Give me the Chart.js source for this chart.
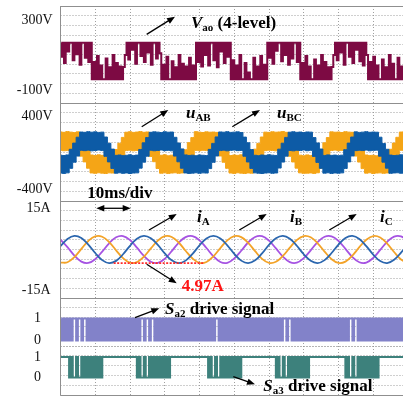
<!DOCTYPE html>
<html>
<head>
<meta charset="utf-8">
<title>Four-level inverter waveforms</title>
<script src="https://cdn.jsdelivr.net/npm/chart.js@4.4.1/dist/chart.umd.min.js"></script>
<style>
  html, body { margin: 0; padding: 0; background: #fff; }
  #scope { position: relative; width: 403px; height: 397px; overflow: hidden; background: #fff; }
  #scope canvas { position: absolute; left: 0; }
</style>
</head>
<body>
<div id="scope">
  <canvas id="pVao"></canvas>
  <canvas id="pLine"></canvas>
  <canvas id="pCur"></canvas>
  <canvas id="pSa2"></canvas>
  <canvas id="pSa3"></canvas>
</div>
<script>
// ---------------- recorded traces ----------------
// time base: 10 ms per division, 0..100 ms across the screen

// phase-leg voltage Vao, one sample every 0.5 ms (V)
const VAO_STEP = 0.5;
const vao = [
  170,90,170,55,170,120,170,170,70,170,105,170,45,170,170,85,170,60,170,
  -39,60,-39,95,-39,40,-39,-39,80,-39,30,-39,100,-39,55,-39,35,-39,31,100,
  170,75,170,130,170,50,170,170,95,170,60,170,115,170,45,170,170,80,170,110,
  -39,45,-39,90,-39,-39,65,-39,30,-39,100,-39,50,-39,35,-39,85,-39,40,-39,
  170,60,170,35,170,100,170,40,170,170,70,170,30,170,120,170,55,170,90,170,
  -39,70,-39,40,-39,100,-39,-39,55,-39,0,-39,-39,85,-39,35,-39,95,-39,45,-39,
  170,85,170,50,170,125,170,170,65,170,100,170,45,170,80,170,170,60,170,
  -39,55,-39,95,-39,35,-39,-39,75,-39,40,-39,100,-39,60,-39,30,-39,31,100,
  170,70,170,115,170,45,170,170,90,170,55,170,130,170,65,170,40,170,100,
  -39,60,-39,90,-39,40,-39,-39,75,-39,30,-39,100,-39,50,-39,-39,85,-39,35,-39,65,-39
];

// line voltages: upper / lower edge of the switching band, every 1 ms (V)
const LINE_STEP = 1;
const uabHigh = [
  232,228,236,230,226,233,175,112,42,-22,-28,-20,-26,-30,-24,-18,38,108,172,
  229,234,227,231,236,228,232,178,105,45,-25,-20,-30,-24,-22,-28,-26,36,114,170,
  235,230,226,233,229,231,227,172,110,40,-28,-22,-26,-20,-30,-25,-23,42,106,176,
  230,227,234,229,232,236,228,174,108,44,-24,-30,-21,-27,-25,-19,38,112,170,
  233,229,231,226,235,230,228,177,111,39,-22,-27,-25,-30,-20,-26,-24,41,109,173,
  231,234,228
];
const uabLow = [
  30,25,27,32,24,29,-35,-98,-168,-220,-224,-218,-222,-226,-219,-221,-172,-103,-33,
  27,31,24,28,33,26,29,-38,-96,-171,-223,-219,-225,-221,-218,-224,-220,-166,-101,-36,
  29,25,30,27,24,32,28,-33,-102,-169,-221,-225,-218,-222,-226,-220,-223,-173,-97,-35,
  26,31,28,24,30,27,33,-36,-99,-167,-219,-224,-222,-220,-225,-218,-170,-104,-32,
  28,32,25,29,27,31,26,-34,-100,-172,-222,-218,-226,-221,-219,-224,-220,-168,-98,-37,
  30,26,29
];
const ubcHigh = [
  -24,-28,-21,41,109,174,231,228,235,229,233,227,230,176,107,43,
  -26,-22,-29,-25,-20,-27,-23,39,112,171,228,233,230,226,234,229,231,173,110,45,
  -21,-27,-24,-30,-22,-25,-28,40,106,177,232,229,235,227,230,233,226,175,113,38,
  -25,-29,-22,-26,-20,-24,-27,42,108,172,229,234,228,231,226,232,230,170,111,44,
  -27,-21,-26,-23,-29,-24,37,109,176,233,227,230,235,228,231,229,174,105,41,
  -23,-28,-25,-20,-26,-22
];
const ubcLow = [
  -221,-225,-219,-169,-102,-34,29,26,31,24,28,32,27,-37,-98,-171,
  -223,-218,-224,-220,-226,-221,-219,-167,-101,-36,30,25,28,33,26,29,24,-34,-97,-168,
  -220,-225,-222,-218,-224,-219,-221,-172,-103,-33,27,31,24,29,32,26,28,-36,-99,-170,
  -219,-223,-226,-221,-218,-224,-220,-166,-100,-35,28,24,30,27,33,25,29,-38,-104,-169,
  -222,-218,-225,-220,-223,-219,-171,-98,-33,26,30,27,32,24,29,31,-35,-101,-167,
  -224,-220,-218,-223,-221,-225
];

// load currents, one sample every 2 ms (A)
const CUR_STEP = 2;
const iA = [1.20,3.82,4.96,4.19,1.80,-1.28,-3.87,-4.96,-4.15,-1.73,1.35,3.92,4.97,4.10,1.66,-1.43,-3.96,-4.97,-4.06,-1.58,
  1.50,4.01,4.97,4.01,1.51,-1.58,-4.06,-4.97,-3.96,-1.43,1.65,4.10,4.97,3.92,1.36,-1.73,-4.14,-4.96,-3.87,-1.28,
  1.80,4.19,4.96,3.82,1.21,-1.87,-4.23,-4.95,-3.77,-1.13,1.94];
const iB = [-4.78,-4.66,-2.75,0.22,3.11,4.80,4.64,2.69,-0.30,-3.17,-4.82,-4.61,-2.62,0.38,3.23,4.84,4.58,2.55,-0.46,-3.29,
  -4.85,-4.55,-2.49,0.53,3.35,4.87,4.52,2.42,-0.61,-3.40,-4.89,-4.48,-2.35,0.69,3.46,4.90,4.45,2.28,-0.77,-3.52,
  -4.91,-4.41,-2.21,0.84,3.57,4.92,4.38,2.14,-0.92,-3.63,-4.93];
const iC = [3.57,0.85,-2.21,-4.41,-4.91,-3.52,-0.77,2.28,4.45,4.90,3.46,0.69,-2.35,-4.48,-4.89,-3.41,-0.61,2.42,4.51,4.87,
  3.35,0.54,-2.48,-4.55,-4.86,-3.29,-0.46,2.55,4.58,4.84,3.23,0.38,-2.62,-4.61,-4.82,-3.17,-0.30,2.68,4.64,4.80,
  3.11,0.23,-2.75,-4.66,-4.78,-3.05,-0.15,2.81,4.69,4.76,2.99];
// measured current peak (A) and the span it is marked over (ms)
const iPeak = 4.97;
const iPeakSpan = [15.3, 41.1];

// gate drive signals, one sample every 0.5 ms (logic level)
const DRIVE_STEP = 0.5;
const sa2 = [
  1,0,1,0,1,0,1,0,1,1, 0,1,1,0,1,1,0,1,0,1, 0,1,0,1,0,1,0,1,0,1, 0,1,0,1,0,1,0,1,0,1,
  0,1,0,1,0,1,0,1,1,0, 1,1,0,1,1,0,1,0,1,0, 1,0,1,0,1,0,1,0,1,0, 1,0,1,0,1,0,1,0,1,0,
  1,0,1,0,1,0,1,0,1,0, 1,1,0,1,0,1,0,1,0,1, 0,1,0,1,0,1,0,1,0,1, 0,1,0,1,0,1,0,1,0,1,
  0,1,0,1,0,1,0,1,0,1, 1,0,1,1,0,1,0,1,0,1, 0,1,0,1,0,1,0,1,0,1, 0,1,0,1,0,1,0,1,0,1,
  0,1,0,1,0,1,0,1,1,0, 1,1,0,1,0,1,0,1,0,1, 0,1,0,1,0,1,0,1,0,1, 0,1,0,1,0,1,0,1,0,1,
  0
];
const sa3 = [
  1,1,1,1,1,1,0,1,0,0, 1,0,0,1,0,1,0,1,0,1, 0,1,0,1,0,1,1,1,1,1, 1,1,1,1,1,1,1,1,1,1,
  1,1,1,1,1,0,1,0,0,1, 0,0,1,0,1,0,1,0,1,0, 1,0,1,0,1,1,1,1,1,1, 1,1,1,1,1,1,1,1,1,1,
  1,1,1,1,1,1,0,1,0,0, 1,0,0,1,0,1,0,1,0,1, 0,1,0,1,0,1,1,1,1,1, 1,1,1,1,1,1,1,1,1,1,
  1,1,1,1,1,0,1,0,0,1, 0,0,1,0,1,0,1,0,1,0, 1,0,1,0,1,1,1,1,1,1, 1,1,1,1,1,1,1,1,1,1,
  1,1,1,1,1,0,1,0,0,1, 0,0,1,0,1,0,1,0,1,0, 1,0,1,0,1,1,1,1,1,1, 1,1,1,1,1,1,1,1,1,1,
  1
];

// value-axis ticks for each trace window
const vaoTicks = [-100, 300],  vaoTickLabels = ['-100V', '300V'];
const lineTicks = [-400, 400], lineTickLabels = ['-400V', '400V'];
const curTicks = [-15, 15],    curTickLabels = ['-15A', '15A'];
const logicTicks = [0, 1],     logicTickLabels = ['0', '1'];

// ---------------- drawing ----------------
const SERIF = '"Liberation Serif", "Times New Roman", Times, serif';
const GRID = 'rgba(150,150,150,0.9)';
const FRAME = '#8f8f8f';
const AXIS_W = 60.5;
const PAD = 20;
const CANVAS_W = 408;

const series = (values, step) => values.map((v, k) => ({ x: k * step, y: v }));

function drawArrow(ctx, x1, y1, x2, y2, both) {
  const a = Math.atan2(y2 - y1, x2 - x1);
  const L = 8, W = 3.2;
  const c = Math.cos(a), s = Math.sin(a);
  ctx.strokeStyle = '#000';
  ctx.fillStyle = '#000';
  ctx.lineWidth = 1.3;
  const back = both ? L * 0.7 : 0;
  ctx.beginPath();
  ctx.moveTo(x1 + c * back, y1 + s * back);
  ctx.lineTo(x2 - c * L * 0.7, y2 - s * L * 0.7);
  ctx.stroke();
  const head = (x, y, cc, ss) => {
    ctx.beginPath();
    ctx.moveTo(x, y);
    ctx.lineTo(x - L * cc + W * ss, y - L * ss - W * cc);
    ctx.lineTo(x - L * cc - W * ss, y - L * ss + W * cc);
    ctx.closePath();
    ctx.fill();
  };
  head(x2, y2, c, s);
  if (both) head(x1, y1, -c, -s);
}

// parts: [text, kind] with kind 'i' = italic symbol, 's' = subscript, '' = plain bold
function drawRich(ctx, x, y, parts, color) {
  ctx.fillStyle = color;
  ctx.textAlign = 'left';
  ctx.textBaseline = 'alphabetic';
  let cx = x;
  for (const [txt, kind] of parts) {
    const sub = kind === 's';
    ctx.font = (kind === 'i' ? 'italic ' : '') + 'bold ' + (sub ? 11 : 17) + 'px ' + SERIF;
    ctx.fillText(txt, cx, y + (sub ? 3 : 0));
    cx += ctx.measureText(txt).width;
  }
}

const framePlugin = (sides) => ({
  id: 'frame',
  afterDatasetsDraw(chart) {
    const a = chart.chartArea, ctx = chart.ctx;
    const l = Math.floor(a.left) + 0.5, r = a.right + 2;
    const t = Math.round(a.top) + 0.5, b = Math.round(a.bottom) + 0.5;
    ctx.save();
    ctx.strokeStyle = FRAME;
    ctx.lineWidth = 1;
    ctx.beginPath();
    if (sides.includes('t')) { ctx.moveTo(l, t); ctx.lineTo(r, t); }
    if (sides.includes('b')) { ctx.moveTo(l, b); ctx.lineTo(r, b); }
    if (sides.includes('l')) { ctx.moveTo(l, t); ctx.lineTo(l, b); }
    ctx.stroke();
    ctx.restore();
  }
});

// callouts are placed in data coordinates (ms, axis units)
const notesPlugin = (items) => ({
  id: 'notes',
  afterDraw(chart) {
    const ctx = chart.ctx, xs = chart.scales.x, ys = chart.scales.y;
    const X = t => xs.getPixelForValue(t), Y = v => ys.getPixelForValue(v);
    ctx.save();
    for (const n of items) {
      if (n.arrow) drawArrow(ctx, X(n.arrow[0]), Y(n.arrow[1]), X(n.arrow[2]), Y(n.arrow[3]), n.both);
      if (n.text) drawRich(ctx, X(n.at[0]), Y(n.at[1]), n.text, n.color || '#000');
    }
    ctx.restore();
  }
});

function panel(id, top, bottom, y, rows, datasets, sides, notes) {
  const cv = document.getElementById(id);
  const h = bottom - top + 2 * PAD;
  cv.width = CANVAS_W;
  cv.height = h;
  cv.style.width = CANVAS_W + 'px';
  cv.style.height = h + 'px';
  cv.style.top = (top - PAD) + 'px';
  return new Chart(cv, {
    type: 'line',
    data: { datasets },
    options: {
      responsive: false,
      animation: false,
      devicePixelRatio: 1,
      events: [],
      layout: { padding: { top: PAD, bottom: PAD, left: 0, right: 0 } },
      plugins: { legend: { display: false }, tooltip: { enabled: false } },
      elements: { point: { radius: 0 }, line: { borderCapStyle: 'butt', borderJoinStyle: 'miter' } },
      scales: {
        x: {
          type: 'linear', min: 0, max: 100,
          afterFit: s => { s.height = 0; s.paddingLeft = 0; s.paddingRight = 0; },
          ticks: { display: false, stepSize: 10 },
          grid: { color: GRID, lineWidth: 1, drawTicks: false },
          border: { display: false, dash: [1, 2] }
        },
        y: {
          type: 'linear', position: 'left', min: y.min, max: y.max,
          afterBuildTicks: s => { s.ticks = y.ticks.map(v => ({ value: v })); },
          afterFit: s => { s.width = AXIS_W; s.paddingTop = 0; s.paddingBottom = 0; },
          ticks: {
            autoSkip: false, padding: y.pad, color: '#111',
            font: { family: SERIF, size: 14 },
            callback: (v, i) => y.labels[i]
          },
          grid: { display: false, drawTicks: false },
          border: { display: false }
        },
        g: {
          type: 'linear', position: 'right', min: 0, max: rows,
          afterFit: s => { s.width = 0; s.paddingTop = 0; s.paddingBottom = 0; },
          ticks: { display: false, stepSize: 1 },
          grid: { color: GRID, lineWidth: 1, drawTicks: false },
          border: { display: false, dash: [1, 2] }
        }
      }
    },
    plugins: [framePlugin(sides), notesPlugin(notes)]
  });
}

const pulse = (label, data, color, width) => ({
  label, data, yAxisID: 'y', borderColor: color, backgroundColor: color,
  borderWidth: width, stepped: 'after', fill: false, tension: 0
});
const bandEdge = (label, data, color, fill, order) => ({
  label, data, yAxisID: 'y', borderColor: color, backgroundColor: color,
  borderWidth: 1, stepped: 'middle', fill, order, tension: 0
});
const wave = (label, data, color) => ({
  label, data, yAxisID: 'y', borderColor: color, borderWidth: 1.8, tension: 0.4, fill: false
});

// 1) phase-leg voltage
panel('pVao', 6, 103,
  { min: -174, max: 380, ticks: vaoTicks, labels: vaoTickLabels, pad: 8 }, 10,
  [pulse('Vao', series(vao, VAO_STEP), '#7d0a43', 2)],
  'tbl',
  [
    { arrow: [24.8, 218, 32.95, 319] },
    { at: [37.55, 257], text: [['V', 'i'], ['ao', 's'], [' (4-level)', '']] }
  ]);

// 2) line voltages
panel('pLine', 103, 201,
  { min: -529, max: 551, ticks: lineTicks, labels: lineTickLabels, pad: 8 }, 10,
  [
    bandEdge('uAB high', series(uabHigh, LINE_STEP), '#f5a516', false, 1),
    bandEdge('uAB low', series(uabLow, LINE_STEP), '#f5a516', '-1', 1),
    bandEdge('uBC high', series(ubcHigh, LINE_STEP), '#0d5ba6', false, 0),
    bandEdge('uBC low', series(ubcLow, LINE_STEP), '#0d5ba6', '-1', 0)
  ],
  'tbl',
  [
    { arrow: [23.37, 290, 31.02, 474] },
    { at: [36.1, 386], text: [['u', 'i'], ['AB', 's']] },
    { arrow: [49.44, 290, 57.41, 474] },
    { at: [62.3, 386], text: [['u', 'i'], ['BC', 's']] },
    { at: [7.7, -501], text: [['10ms/div', '']] }
  ]);

// 3) load currents
panel('pCur', 201, 298,
  { min: -17.7, max: 17.7, ticks: curTicks, labels: curTickLabels, pad: 10 }, 10,
  [
    { label: 'peak', data: [{ x: iPeakSpan[0], y: -iPeak }, { x: iPeakSpan[1], y: -iPeak }], yAxisID: 'y',
      borderColor: '#ff2a2a', borderWidth: 1.6, borderDash: [2, 1.5], fill: false, tension: 0 },
    wave('iA', series(iA, CUR_STEP), '#2b66ae'),
    wave('iB', series(iB, CUR_STEP), '#f3a328'),
    wave('iC', series(iC, CUR_STEP), '#a653e2')
  ],
  'tbl',
  [
    { arrow: [10.3, 15.04, 20.2, 15.04], both: true },
    { arrow: [25.47, 7.1, 33.44, 13.0] },
    { at: [39.28, 10.0], text: [['i', 'i'], ['A', 's']] },
    { arrow: [51.45, 7.1, 59.34, 13.0] },
    { at: [66.04, 10.0], text: [['i', 'i'], ['B', 's']] },
    { arrow: [77.35, 7.1, 85.24, 13.0] },
    { at: [91.94, 10.0], text: [['i', 'i'], ['C', 's']] },
    { arrow: [24.8, -5.4, 33.44, -12.34] },
    { at: [34.88, -15.15], text: [[iPeak.toFixed(2) + 'A', '']], color: '#ff1414' }
  ]);

// 4) drive signals (upper and lower halves of the last window)
panel('pSa2', 298, 346,
  { min: -0.25, max: 1.932, ticks: logicTicks, labels: logicTickLabels, pad: 19.5 }, 5,
  [pulse('Sa2', series(sa2, DRIVE_STEP), '#8282c9', 2)],
  'tl',
  [
    { arrow: [21.44, 1.036, 28.43, 1.464] },
    { at: [30.07, 1.227], text: [['S', 'i'], ['a2', 's'], [' drive signal', '']] }
  ]);

panel('pSa3', 346, 395,
  { min: -0.854, max: 1.537, ticks: logicTicks, labels: logicTickLabels, pad: 19.5 }, 5,
  [pulse('Sa3', series(sa3, DRIVE_STEP), '#3d817c', 2.2)],
  'bl',
  [
    { arrow: [49.73, 0.039, 55.97, -0.332] },
    { at: [58.36, -0.659], text: [['S', 'i'], ['a3', 's'], [' drive signal', '']] }
  ]);
</script>
</body>
</html>
